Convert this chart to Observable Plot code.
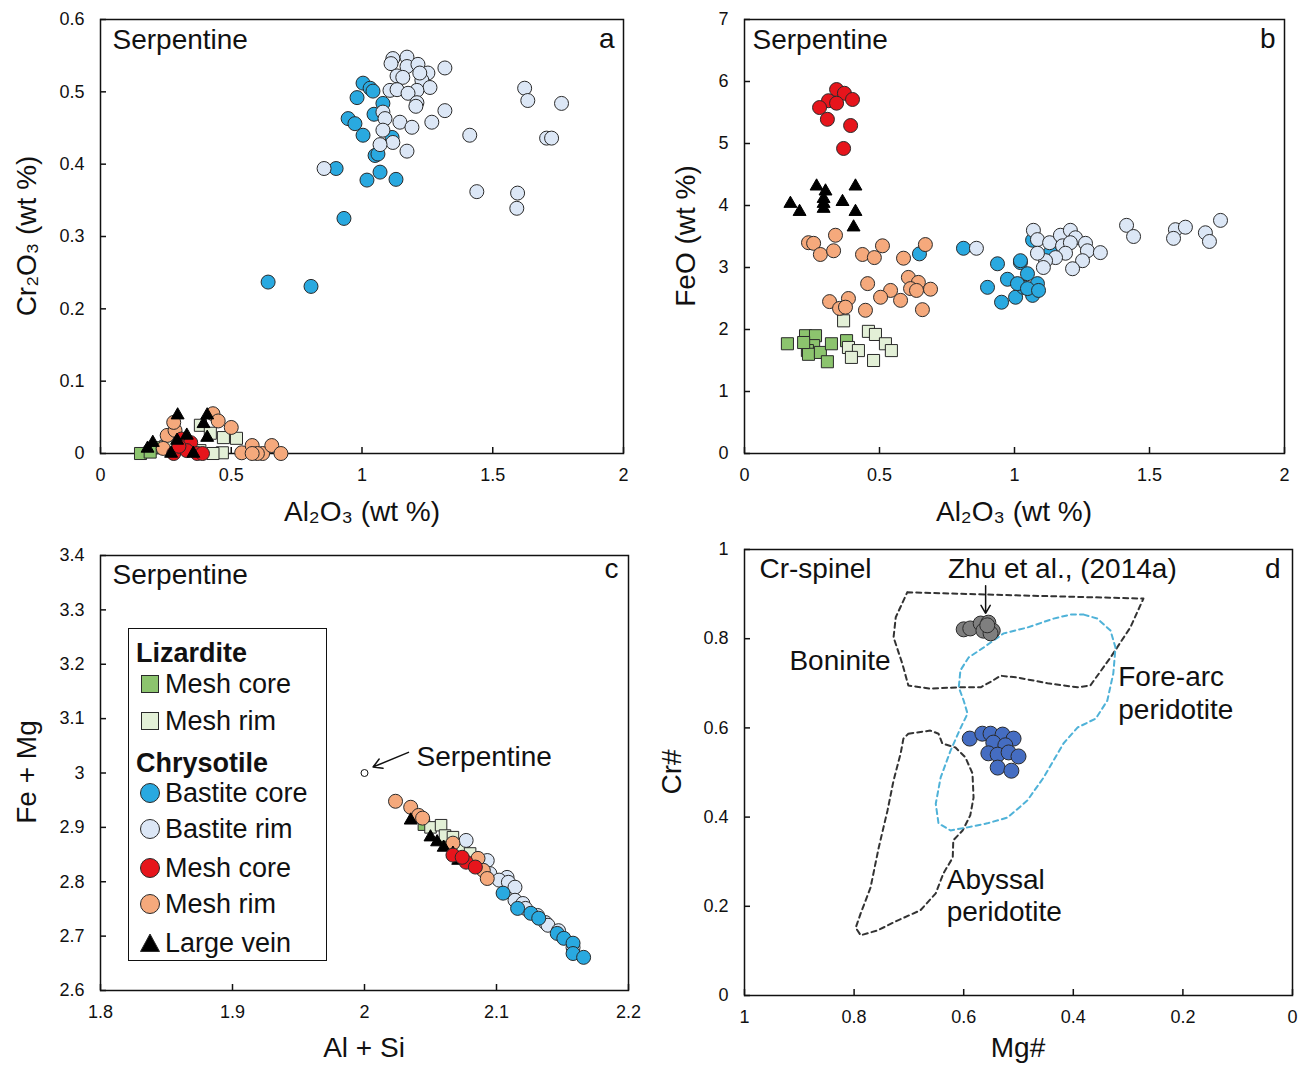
<!DOCTYPE html>
<html><head><meta charset="utf-8">
<script src="https://cdn.jsdelivr.net/npm/d3@7"></script>
<script src="https://cdn.jsdelivr.net/npm/@observablehq/plot@0.6"></script>
<style>
body{margin:0;background:#fff;font-family:"Liberation Sans",Arial,sans-serif;}
#root{position:relative;width:1306px;height:1066px;overflow:hidden;background:#fff;}
#root svg{position:absolute;overflow:visible;}
.lab{position:absolute;font-size:28px;white-space:nowrap;transform:translate(-50%,-50%);color:#111;line-height:1;}
.ylab{transform:translate(-50%,-50%) rotate(-90deg);}
#legend{position:absolute;left:128px;top:628px;width:199px;height:333px;border:1.5px solid #111;background:#fff;box-sizing:border-box;}
.li{position:absolute;font-size:27px;white-space:nowrap;transform:translateY(-50%);line-height:1;color:#111;}
.lh{font-weight:bold;left:7px;}
.lt{left:36px;}
.ls{position:absolute;left:10px;transform:translateY(-50%);}
</style></head><body><div id="root"></div>
<script>
// ---------- Panel a: Cr2O3 vs Al2O3 ----------
const aLizCore = [[0.153,0.0],[0.22,0.008],[0.19,0.002]];
const aLizRim = [[0.382,0.039],[0.42,0.028],[0.47,0.022],[0.52,0.021],[0.466,0.001],[0.43,0.0],[0.38,0.004],[0.25,0.01]];
const aBastCore = [[1.004,0.512],[1.031,0.505],[1.042,0.501],[0.981,0.492],[1.08,0.484],[1.046,0.469],[0.947,0.463],[0.973,0.456],[1.004,0.44],[1.05,0.412],[1.061,0.414],[1.115,0.437],[0.901,0.394],[1.069,0.389],[1.019,0.378],[1.13,0.379],[0.931,0.325],[0.641,0.237],[0.805,0.231]];
const aBastRim = [[1.118,0.546],[1.172,0.548],[1.111,0.539],[1.172,0.535],[1.214,0.538],[1.317,0.533],[1.134,0.522],[1.156,0.52],[1.252,0.526],[1.229,0.516],[1.221,0.526],[1.26,0.506],[1.21,0.502],[1.107,0.502],[1.134,0.503],[1.176,0.498],[1.21,0.485],[1.206,0.48],[1.317,0.474],[1.08,0.472],[1.088,0.463],[1.145,0.458],[1.191,0.451],[1.267,0.458],[1.08,0.447],[1.118,0.43],[1.069,0.427],[1.172,0.418],[0.855,0.394],[1.412,0.44],[1.622,0.505],[1.634,0.488],[1.763,0.484],[1.706,0.436],[1.725,0.436],[1.439,0.362],[1.595,0.36],[1.592,0.339]];
const aMeshRim = [[0.43,0.055],[0.255,0.025],[0.285,0.032],[0.24,0.007],[0.5,0.036],[0.54,0.001],[0.58,0.011],[0.62,0.0],[0.655,0.011],[0.69,0.0],[0.6,0.0],[0.58,0.0],[0.28,0.043],[0.45,0.045]];
const aMeshCore = [[0.31,0.02],[0.345,0.015],[0.33,0.004],[0.37,0.0],[0.39,0.0],[0.28,0.0],[0.3,0.01]];
const aVein = [[0.295,0.053],[0.408,0.053],[0.2,0.015],[0.18,0.007],[0.293,0.018],[0.408,0.022],[0.394,0.041],[0.27,0.0],[0.355,0.0],[0.33,0.025]];
const aXTicks = [0,0.5,1,1.5,2];
const aYTicks = [0,0.1,0.2,0.3,0.4,0.5,0.6];

// ---------- Panel b: FeO vs Al2O3 ----------
const bLizCore = [[0.159,1.77],[0.226,1.9],[0.263,1.9],[0.256,1.74],[0.233,1.66],[0.237,1.6],[0.281,1.63],[0.322,1.77],[0.307,1.48],[0.378,1.82],[0.219,1.79]];
const bLizRim = [[0.367,2.14],[0.459,1.97],[0.485,1.92],[0.385,1.71],[0.422,1.66],[0.396,1.55],[0.522,1.77],[0.544,1.66],[0.478,1.5]];
const bBastCore = [[0.648,3.22],[0.811,3.31],[0.937,3.06],[1.022,3.08],[1.048,2.9],[0.974,2.81],[0.9,2.68],[0.952,2.44],[1.004,2.52],[1.033,2.68],[1.067,2.55],[1.085,2.74],[1.011,2.74],[1.048,2.66],[1.089,2.63],[1.133,3.24],[1.067,3.44],[1.022,3.11]];
const bBastRim = [[0.859,3.31],[1.07,3.6],[1.085,3.45],[1.13,3.4],[1.17,3.52],[1.207,3.6],[1.226,3.48],[1.178,3.35],[1.207,3.4],[1.263,3.39],[1.27,3.27],[1.318,3.24],[1.189,3.23],[1.252,3.11],[1.215,2.98],[1.152,3.16],[1.115,3.11],[1.085,3.23],[1.107,3.0],[1.415,3.68],[1.441,3.5],[1.596,3.61],[1.633,3.65],[1.589,3.47],[1.707,3.56],[1.722,3.42],[1.763,3.76]];
const bMeshRim = [[0.237,3.4],[0.256,3.39],[0.281,3.21],[0.337,3.52],[0.33,3.27],[0.437,3.21],[0.481,3.16],[0.511,3.35],[0.589,3.15],[0.67,3.37],[0.607,2.84],[0.644,2.76],[0.615,2.66],[0.637,2.63],[0.689,2.65],[0.456,2.74],[0.541,2.63],[0.504,2.52],[0.578,2.47],[0.385,2.5],[0.315,2.45],[0.352,2.34],[0.374,2.36],[0.448,2.31],[0.659,2.32]];
const bMeshCore = [[0.341,5.87],[0.37,5.81],[0.4,5.71],[0.311,5.69],[0.341,5.65],[0.278,5.58],[0.307,5.39],[0.393,5.29],[0.367,4.92]];
const bVein = [[0.267,4.31],[0.3,4.23],[0.411,4.31],[0.17,4.03],[0.204,3.9],[0.293,4.11],[0.293,4.03],[0.293,3.95],[0.363,4.06],[0.411,3.9],[0.404,3.65]];
const bXTicks = [0,0.5,1,1.5,2];
const bYTicks = [0,1,2,3,4,5,6,7];

// ---------- Panel c: Fe+Mg vs Al+Si ----------
const cLizCore = [[2.045,2.905],[2.062,2.878]];
const cLizRim = [[2.05,2.9],[2.058,2.904],[2.061,2.885],[2.067,2.882],[2.074,2.863],[2.08,2.852]];
const cBastRim = [[2.077,2.876],[2.093,2.839],[2.095,2.815],[2.108,2.808],[2.102,2.803],[2.109,2.799],[2.114,2.79],[2.114,2.766],[2.12,2.76],[2.122,2.751],[2.131,2.738],[2.137,2.725],[2.139,2.72],[2.147,2.71],[2.158,2.679]];
const cBastCore = [[2.105,2.779],[2.116,2.751],[2.126,2.742],[2.132,2.733],[2.146,2.705],[2.151,2.696],[2.158,2.687],[2.158,2.668],[2.166,2.661]];
const cMeshRim = [[2.0235,2.948],[2.035,2.937],[2.041,2.922],[2.044,2.917],[2.067,2.871],[2.086,2.843],[2.09,2.821],[2.093,2.806]];
const cVein = [[2.035,2.913],[2.05,2.882],[2.055,2.873],[2.06,2.863],[2.067,2.852],[2.071,2.839]];
const cMeshCore = [[2.067,2.849],[2.077,2.836],[2.084,2.827],[2.074,2.845]];
const cSerpentine = [[2.0,3.0]];
const cXTicks = [1.8,1.9,2,2.1,2.2];
const cYTicks = [2.6,2.7,2.8,2.9,3,3.1,3.2,3.3,3.4];

// ---------- Panel d: Cr# vs Mg# (Cr-spinel) ----------
const dZhu = [[0.60,0.821],[0.588,0.823],[0.569,0.834],[0.555,0.836],[0.564,0.818],[0.547,0.818],[0.551,0.812],[0.557,0.83]];
const dSpinel = [[0.589,0.576],[0.566,0.587],[0.551,0.587],[0.529,0.585],[0.509,0.576],[0.546,0.567],[0.524,0.561],[0.555,0.543],[0.538,0.54],[0.518,0.545],[0.5,0.536],[0.538,0.511],[0.513,0.504]];
const dBoninite = [[0.703,0.904],[0.496,0.897],[0.272,0.89],[0.296,0.825],[0.332,0.758],[0.369,0.695],[0.392,0.691],[0.447,0.70],[0.502,0.713],[0.533,0.717],[0.547,0.706],[0.569,0.691],[0.611,0.691],[0.661,0.688],[0.701,0.695],[0.712,0.744],[0.728,0.803],[0.724,0.848],[0.703,0.904]];
const dAbyssal = [[0.701,0.587],[0.661,0.594],[0.646,0.587],[0.639,0.565],[0.615,0.556],[0.597,0.534],[0.584,0.498],[0.582,0.444],[0.588,0.404],[0.602,0.37],[0.619,0.348],[0.62,0.309],[0.637,0.274],[0.651,0.229],[0.679,0.191],[0.721,0.168],[0.757,0.146],[0.788,0.135],[0.797,0.152],[0.788,0.184],[0.77,0.242],[0.755,0.332],[0.739,0.415],[0.728,0.482],[0.715,0.543],[0.71,0.576],[0.701,0.587]];
const dForearc = [[0.381,0.854],[0.356,0.845],[0.332,0.818],[0.323,0.78],[0.327,0.722],[0.338,0.661],[0.359,0.621],[0.392,0.601],[0.418,0.565],[0.454,0.489],[0.484,0.437],[0.52,0.399],[0.557,0.386],[0.593,0.377],[0.624,0.37],[0.646,0.386],[0.651,0.43],[0.642,0.489],[0.624,0.549],[0.606,0.599],[0.593,0.632],[0.60,0.661],[0.609,0.691],[0.606,0.729],[0.591,0.758],[0.564,0.78],[0.527,0.812],[0.484,0.825],[0.436,0.845],[0.405,0.854],[0.381,0.854]];
const dLabelsStart = [[0.918,0.751,"Boninite"],[0.318,0.715,"Fore-arc"],[0.318,0.639,"peridotite"],[0.631,0.258,"Abyssal"],[0.631,0.188,"peridotite"]];
const dLabelsMiddle = [[0.42,0.957,"Zhu et al., (2014a)"]];
const dXTicks = [1,0.8,0.6,0.4,0.2,0];
const dYTicks = [0,0.2,0.4,0.6,0.8,1];

const COL = {lizCore:"#8cc46e", lizRim:"#e3f0d7", bastCore:"#29a9e0", bastRim:"#dce7f6", meshCore:"#e6151c", meshRim:"#f5a97c", vein:"#000000", zhu:"#7f7f7f", spinel:"#456dc2"};
const FONT = "Liberation Sans, Arial, sans-serif";
const root = document.getElementById("root");

const dot = (data, fill, symbol="circle", r=7) => Plot.dot(data, {x:d=>d[0], y:d=>d[1], fill, stroke: symbol==="triangle" ? "#000" : "#2a2a2a", strokeWidth:1, symbol, r});
const corner = (t, anchor, dx, dy, size=28) => Plot.text([t], {text:d=>d, frameAnchor:anchor, dx, dy, textAnchor: anchor.endsWith("left")?"start":"end", lineAnchor:"top", fontSize:size, fill:"#111"});

function panel({left, top, width, height, ml, mr, mt, mb, xdom, ydom, xticks, yticks, marks}) {
  const innerW = width-ml-mr, innerH = height-mt-mb;
  const svg = Plot.plot({
    width, height, marginLeft:ml, marginRight:mr, marginTop:mt, marginBottom:mb,
    x:{domain:xdom}, y:{domain:ydom},
    style:{fontFamily:FONT, background:"transparent", color:"#111"},
    marks:[
      Plot.frame({stroke:"#111", strokeWidth:1.5}),
      Plot.tickX(xticks, {x:d=>d, insetTop:innerH-6, stroke:"#111", strokeWidth:1.5}),
      Plot.tickY(yticks, {y:d=>d, insetRight:innerW-6, stroke:"#111", strokeWidth:1.5}),
      Plot.axisX(xticks, {tickSize:0, tickPadding:15, fontSize:18, tickFormat:d=>String(d), label:null}),
      Plot.axisY(yticks, {tickSize:0, tickPadding:16, fontSize:18, tickFormat:d=>String(d), label:null}),
      ...marks
    ]
  });
  svg.style.left = left+"px"; svg.style.top = top+"px";
  root.appendChild(svg);
}

// Panel a
panel({left:0, top:0, width:650, height:530, ml:100, mr:27, mt:19, mb:77, xdom:[0,2], ydom:[0,0.6], xticks:aXTicks, yticks:aYTicks, marks:[
  dot(aBastCore, COL.bastCore), dot(aBastRim, COL.bastRim),
  dot(aLizCore, COL.lizCore, "square", 6.8), dot(aLizRim, COL.lizRim, "square", 6.8),
  dot(aMeshRim, COL.meshRim), dot(aMeshCore, COL.meshCore),
  dot(aVein, COL.vein, "triangle", 4.8),
  corner("Serpentine","top-left",12,10), corner("a","top-right",-9,9)
]});

// Panel b
panel({left:650, top:0, width:656, height:530, ml:94, mr:22, mt:19, mb:77, xdom:[0,2], ydom:[0,7], xticks:bXTicks, yticks:bYTicks, marks:[
  dot(bLizCore, COL.lizCore, "square", 6.8), dot(bLizRim, COL.lizRim, "square", 6.8),
  dot(bBastCore, COL.bastCore), dot(bBastRim, COL.bastRim),
  dot(bMeshRim, COL.meshRim), dot(bMeshCore, COL.meshCore),
  dot(bVein, COL.vein, "triangle", 4.8),
  corner("Serpentine","top-left",8,10), corner("b","top-right",-9,9)
]});

// Panel c
panel({left:0, top:530, width:650, height:536, ml:100, mr:22, mt:25, mb:76, xdom:[1.8,2.2], ydom:[2.6,3.4], xticks:cXTicks, yticks:cYTicks, marks:[
  dot(cLizCore, COL.lizCore, "square", 6.5), dot(cLizRim, COL.lizRim, "square", 6.5),
  dot(cBastRim, COL.bastRim), dot(cBastCore, COL.bastCore),
  dot(cMeshRim, COL.meshRim), dot(cVein, COL.vein, "triangle", 4.8), dot(cMeshCore, COL.meshCore),
  Plot.dot(cSerpentine, {x:d=>d[0], y:d=>d[1], r:3.5, fill:"#fff", stroke:"#111", strokeWidth:1}),
  Plot.arrow([[2.0333,3.038,2.0065,3.011]], {x1:d=>d[0], y1:d=>d[1], x2:d=>d[2], y2:d=>d[3], stroke:"#111", strokeWidth:1.5, headLength:10}),
  Plot.text([[2.0394,3.029,"Serpentine"]], {x:d=>d[0], y:d=>d[1], text:d=>d[2], textAnchor:"start", fontSize:28, fill:"#111"}),
  corner("Serpentine","top-left",12,9), corner("c","top-right",-10,3)
]});

// Panel d
panel({left:650, top:530, width:656, height:536, ml:94, mr:14, mt:19, mb:71, xdom:[1,0], ydom:[0,1], xticks:dXTicks, yticks:dYTicks, marks:[
  Plot.line(dBoninite, {x:d=>d[0], y:d=>d[1], stroke:"#333", strokeWidth:2, strokeDasharray:"5,4"}),
  Plot.line(dAbyssal, {x:d=>d[0], y:d=>d[1], stroke:"#333", strokeWidth:2, strokeDasharray:"5,4"}),
  Plot.line(dForearc, {x:d=>d[0], y:d=>d[1], stroke:"#4fb2d8", strokeWidth:2, strokeDasharray:"5,4"}),
  dot(dZhu, COL.zhu, "circle", 7.5), dot(dSpinel, COL.spinel, "circle", 7.5),
  Plot.arrow([[0.56,0.919,0.56,0.857]], {x1:d=>d[0], y1:d=>d[1], x2:d=>d[2], y2:d=>d[3], stroke:"#111", strokeWidth:1.5, headLength:10}),
  Plot.text(dLabelsStart, {x:d=>d[0], y:d=>d[1], text:d=>d[2], textAnchor:"start", fontSize:28, fill:"#111"}),
  Plot.text(dLabelsMiddle, {x:d=>d[0], y:d=>d[1], text:d=>d[2], textAnchor:"middle", fontSize:28, fill:"#111"}),
  corner("Cr-spinel","top-left",15,9), corner("d","top-right",-12,9)
]});

// Axis titles
const labels = [
  ["Al₂O₃ (wt %)", 362, 512, false], ["Cr₂O₃ (wt %)", 27, 236, true],
  ["Al₂O₃ (wt %)", 1014, 512, false], ["FeO (wt %)", 686, 236, true],
  ["Al + Si", 364, 1048, false], ["Fe + Mg", 27, 772, true],
  ["Mg#", 1018, 1048, false], ["Cr#", 672, 772, true]
];
for (const [t,x,y,rot] of labels) {
  const d = document.createElement("div");
  d.className = "lab" + (rot?" ylab":"");
  d.style.left = x+"px"; d.style.top = y+"px"; d.textContent = t;
  root.appendChild(d);
}

// Legend (panel c)
const legendItems = [
  {t:"Lizardite", y:24, head:true},
  {t:"Mesh core", y:55, sym:"square", fill:COL.lizCore},
  {t:"Mesh rim", y:92, sym:"square", fill:COL.lizRim},
  {t:"Chrysotile", y:134, head:true},
  {t:"Bastite core", y:164, sym:"circle", fill:COL.bastCore},
  {t:"Bastite rim", y:200, sym:"circle", fill:COL.bastRim},
  {t:"Mesh core", y:239, sym:"circle", fill:COL.meshCore},
  {t:"Mesh rim", y:275, sym:"circle", fill:COL.meshRim},
  {t:"Large vein", y:314, sym:"triangle", fill:"#000"}
];
const lg = document.createElement("div"); lg.id = "legend"; root.appendChild(lg);
for (const it of legendItems) {
  const s = document.createElement("div");
  s.className = "li " + (it.head ? "lh" : "lt");
  s.style.top = it.y+"px"; s.textContent = it.t; lg.appendChild(s);
  if (it.sym) {
    const ns = "http://www.w3.org/2000/svg";
    const svg = document.createElementNS(ns,"svg");
    svg.setAttribute("width",22); svg.setAttribute("height",22);
    svg.setAttribute("class","ls"); svg.style.top = it.y+"px"; svg.style.position="absolute";
    let el;
    if (it.sym==="square") { el = document.createElementNS(ns,"rect"); el.setAttribute("x",2.5); el.setAttribute("y",2.5); el.setAttribute("width",17); el.setAttribute("height",17); }
    else if (it.sym==="circle") { el = document.createElementNS(ns,"circle"); el.setAttribute("cx",11); el.setAttribute("cy",11); el.setAttribute("r",9.5); }
    else { el = document.createElementNS(ns,"path"); el.setAttribute("d","M11,2 L20.5,19.5 L1.5,19.5 Z"); }
    el.setAttribute("fill", it.fill); el.setAttribute("stroke","#2a2a2a"); el.setAttribute("stroke-width",1);
    svg.appendChild(el); lg.appendChild(svg);
  }
}
</script></body></html>
